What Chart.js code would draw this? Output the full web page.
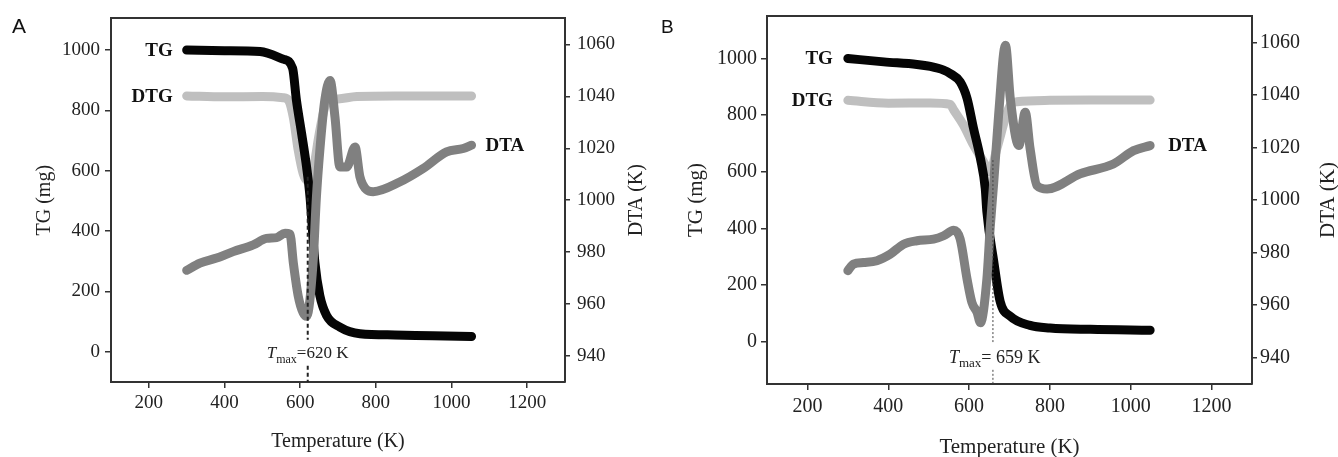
<!DOCTYPE html>
<html><head><meta charset="utf-8">
<script src="https://cdn.jsdelivr.net/npm/chart.js@4.4.1/dist/chart.umd.min.js"></script>
<style>
html,body{margin:0;padding:0;background:#fff;overflow:hidden;}
#wrap{position:relative;width:1338px;height:457px;background:#fff;}
canvas{position:absolute;top:0;}
.tag{position:absolute;font-family:"Liberation Sans",Arial,sans-serif;color:#111;line-height:1;}
</style></head><body>
<div id="wrap">
<canvas id="cA" width="655" height="457" style="left:0"></canvas>
<canvas id="cB" width="683" height="457" style="left:655px"></canvas>
<div class="tag" style="left:12px;top:15px;font-size:21px">A</div>
<div class="tag" style="left:661px;top:17px;font-size:19px">B</div>
</div>
<script>
// ---------------- shared axis ticks ----------------
const xTicks = [200, 400, 600, 800, 1000, 1200];
const tgTicks = [0, 200, 400, 600, 800, 1000];
const dtaTicks = [940, 960, 980, 1000, 1020, 1040, 1060];

// ---------------- Panel A ----------------
const tgTempA = [300, 400, 494, 555, 580, 590, 604, 617, 626, 639, 652, 670, 705, 758, 850, 950, 1053];
const tgValA  = [1000, 998, 995, 970, 940, 835, 722, 612, 514, 295, 186, 120, 82, 60, 56, 53, 51];
const dtgTempA = [300, 400, 500, 555, 570, 582, 595, 608, 617, 634, 650, 665, 680, 700, 750, 850, 1053];
const dtgValA  = [848, 845, 846, 842, 832, 776, 667, 590, 568, 601, 720, 810, 835, 838, 846, 848, 848];
const dtaTempA = [300, 335, 379, 423, 476, 511, 538, 560, 573, 582, 595, 608, 617, 634, 643, 652, 665, 679, 692, 705, 723, 745, 758, 776, 793, 863, 925, 987, 1031, 1053];
const dtaValA  = [973, 975.8, 977.7, 980.2, 982.8, 985.3, 985.6, 987.3, 987, 975.8, 963, 956.6, 955.3, 975.8, 1001.3, 1019.2, 1038.4, 1046.1, 1032, 1012.8, 1012.8, 1020.5, 1009, 1004, 1003.3, 1007, 1012.2, 1018.6, 1019.9, 1021.2];
const tmaxA = 620;

// ---------------- Panel B ----------------
const tgTempB = [300, 389, 471, 504, 537, 553, 578, 595, 611, 628, 640, 644, 661, 677, 702, 751, 800, 900, 1048];
const tgValB  = [1000, 988, 979, 972, 959, 947, 917, 859, 753, 647, 541, 459, 283, 141, 89, 57, 48, 43, 40];
const dtgTempB = [300, 400, 504, 553, 562, 586, 611, 636, 652, 669, 702, 718, 800, 900, 1048];
const dtgValB  = [852, 842, 843, 838, 818, 765, 694, 635, 600, 683, 835, 847, 852, 853, 853];
const dtaTempB = [300, 314, 339, 372, 405, 438, 471, 512, 537, 562, 578, 595, 607, 620, 628, 644, 652, 661, 673, 690, 702, 723, 739, 751, 768, 793, 875, 957, 1007, 1048];
const dtaValB  = [973.1, 975.6, 976.2, 976.9, 979.4, 983.2, 984.5, 985.1, 986.4, 988.5, 985.1, 969.9, 961, 957.2, 953.3, 969.9, 989, 1006.7, 1032.2, 1058.9, 1038.5, 1020.7, 1033.4, 1019.5, 1005.5, 1004.2, 1010, 1013.7, 1018.8, 1020.7];
const tmaxB = 659;

const SERIF = '"Liberation Serif","Times New Roman",serif';

function pts(xs, ys) { return xs.map((x, i) => ({x: x, y: ys[i]})); }

const annotPlugin = {
  id: 'annot',
  afterDatasetsDraw(chart, args, o) {
    const ctx = chart.ctx;
    const xs = chart.scales.x, yL = chart.scales.y;
    ctx.save();
    // series name labels
    o.labels.forEach(l => {
      const ds = chart.data.datasets[l.ds];
      const pt = l.end ? ds.data[ds.data.length - 1] : ds.data[0];
      const sc = chart.scales[ds.yAxisID];
      const px = xs.getPixelForValue(pt.x), py = sc.getPixelForValue(pt.y);
      ctx.font = 'bold ' + o.labelSize + 'px ' + SERIF;
      ctx.fillStyle = '#111';
      ctx.textBaseline = 'middle';
      ctx.textAlign = l.end ? 'left' : 'right';
      ctx.fillText(ds.label, px + (l.end ? l.gap : -l.gap), py + 1);
    });
    // Tmax line
    const t = o.tmax;
    const lx = xs.getPixelForValue(t.value);
    const ty = yL.getPixelForValue(t.labelY);
    const top = yL.getPixelForValue(t.lineTop);
    const bot = chart.chartArea.bottom;
    ctx.strokeStyle = t.color; ctx.lineWidth = t.width; ctx.setLineDash(t.dash);
    ctx.beginPath();
    ctx.moveTo(lx, top); ctx.lineTo(lx, ty - t.gap);
    ctx.moveTo(lx, ty + t.gap); ctx.lineTo(lx, bot);
    ctx.stroke();
    ctx.setLineDash([]);
    // Tmax text
    let cx = lx - t.lead;
    const base = ty + t.size * 0.33;
    ctx.fillStyle = '#222'; ctx.textAlign = 'left'; ctx.textBaseline = 'alphabetic';
    ctx.font = 'italic ' + t.size + 'px ' + SERIF;
    ctx.fillText('T', cx, base); cx += ctx.measureText('T').width;
    ctx.font = Math.round(t.size * 0.7) + 'px ' + SERIF;
    ctx.fillText('max', cx, base + t.size * 0.25); cx += ctx.measureText('max').width;
    ctx.font = t.size + 'px ' + SERIF;
    ctx.fillText(t.rest + t.value + ' K', cx, base);
    // right axis title (reads bottom-to-top)
    const ca = chart.chartArea;
    ctx.translate(o.rightTitleX, (ca.top + ca.bottom) / 2);
    ctx.rotate(-Math.PI / 2);
    ctx.font = o.titleSize + 'px ' + SERIF;
    ctx.textAlign = 'center'; ctx.textBaseline = 'middle';
    ctx.fillText('DTA (K)', 0, 0);
    ctx.restore();
  }
};

function fixTicks(vals) { return function (scale) { scale.ticks = vals.map(v => ({value: v})); }; }

function build(id, p) {
  const axisCol = '#333';
  const tickFont = {family: SERIF, size: p.tickSize};
  new Chart(document.getElementById(id), {
    type: 'line',
    data: {datasets: [
      {label: 'DTA', data: pts(p.dtaT, p.dtaV), yAxisID: 'y2', borderColor: '#808080', order: 0},
      {label: 'TG', data: pts(p.tgT, p.tgV), yAxisID: 'y', borderColor: '#050505', order: 1},
      {label: 'DTG', data: pts(p.dtgT, p.dtgV), yAxisID: 'y', borderColor: '#bfbfbf', order: 2}
    ]},
    options: {
      responsive: false, animation: false, devicePixelRatio: 1,
      layout: {padding: {top: p.top, left: 0, right: 0, bottom: 0}},
      elements: {
        point: {radius: 0, hoverRadius: 0},
        line: {borderWidth: p.lw, borderCapStyle: 'round', borderJoinStyle: 'round', cubicInterpolationMode: 'monotone', fill: false}
      },
      plugins: {
        legend: {display: false}, tooltip: {enabled: false},
        annot: {
          labelSize: 19, titleSize: p.titleSize, rightTitleX: p.rightTitleX,
          labels: [{ds: 1, end: false, gap: p.gapL}, {ds: 2, end: false, gap: p.gapL}, {ds: 0, end: true, gap: p.gapR}],
          tmax: p.tmax
        }
      },
      scales: {
        x: {
          type: 'linear', position: 'bottom', min: 100, max: 1300,
          afterBuildTicks: fixTicks(xTicks), afterFit: s => { s.height = p.xH; },
          border: {display: true, color: axisCol, width: 2},
          grid: {display: true, drawOnChartArea: false, drawTicks: true, tickLength: 6, color: axisCol, lineWidth: 1.5},
          ticks: {font: tickFont, color: '#222', padding: p.xPad, maxRotation: 0, callback: v => String(v)},
          title: {display: true, text: 'Temperature (K)', color: '#222', font: {family: SERIF, size: p.titleSize, lineHeight: 1}, padding: {top: p.xTitlePad, bottom: p.xTitlePad}}
        },
        x2: {
          type: 'linear', position: 'top', min: 100, max: 1300,
          afterFit: s => { s.height = 0; },
          border: {display: true, color: axisCol, width: 2},
          grid: {display: false}, ticks: {display: false}
        },
        y: {
          type: 'linear', position: 'left', min: p.yMin, max: p.yMax,
          afterBuildTicks: fixTicks(tgTicks), afterFit: s => { s.width = p.yW; },
          border: {display: true, color: axisCol, width: 2},
          grid: {display: true, drawOnChartArea: false, drawTicks: true, tickLength: 6, color: axisCol, lineWidth: 1.5},
          ticks: {font: tickFont, color: '#222', padding: p.yPad, callback: v => String(v)},
          title: {display: true, text: 'TG (mg)', color: '#222', font: {family: SERIF, size: p.titleSize, lineHeight: 1.2}, padding: {top: p.yTitlePad, bottom: 0}}
        },
        y2: {
          type: 'linear', position: 'right', min: 930, max: 1070,
          afterBuildTicks: fixTicks(dtaTicks), afterFit: s => { s.width = p.y2W; },
          border: {display: true, color: axisCol, width: 2},
          grid: {display: true, drawOnChartArea: false, drawTicks: true, tickLength: 5, color: axisCol, lineWidth: 1.5},
          ticks: {font: tickFont, color: '#222', padding: p.y2Pad, callback: v => String(v)}
        }
      }
    },
    plugins: [annotPlugin]
  });
}

build('cA', {
  tgT: tgTempA, tgV: tgValA, dtgT: dtgTempA, dtgV: dtgValA, dtaT: dtaTempA, dtaV: dtaValA,
  top: 15, xH: 75, yW: 111, y2W: 90, yMin: -100, yMax: 1105,
  lw: 9, tickSize: 19, titleSize: 20, xPad: 4, yPad: 5, y2Pad: 7,
  xTitlePad: 5, yTitlePad: 33, rightTitleX: 637, gapL: 14, gapR: 14,
  tmax: {value: tmaxA, labelY: -3, lineTop: 580, color: '#222', width: 2, dash: [4, 3], gap: 13, lead: 41, size: 17, rest: '='}
});
build('cB', {
  tgT: tgTempB, tgV: tgValB, dtgT: dtgTempB, dtgV: dtgValB, dtaT: dtaTempB, dtaV: dtaValB,
  top: 15, xH: 73, yW: 112, y2W: 86, yMin: -150, yMax: 1150,
  lw: 9, tickSize: 20, titleSize: 21, xPad: 5, yPad: 4, y2Pad: 3,
  xTitlePad: -1, yTitlePad: 29, rightTitleX: 673, gapL: 15, gapR: 18,
  tmax: {value: tmaxB, labelY: -54, lineTop: 641, color: '#444', width: 1, dash: [2, 2], gap: 13, lead: 44, size: 18, rest: '= '}
});
</script>
</body></html>
